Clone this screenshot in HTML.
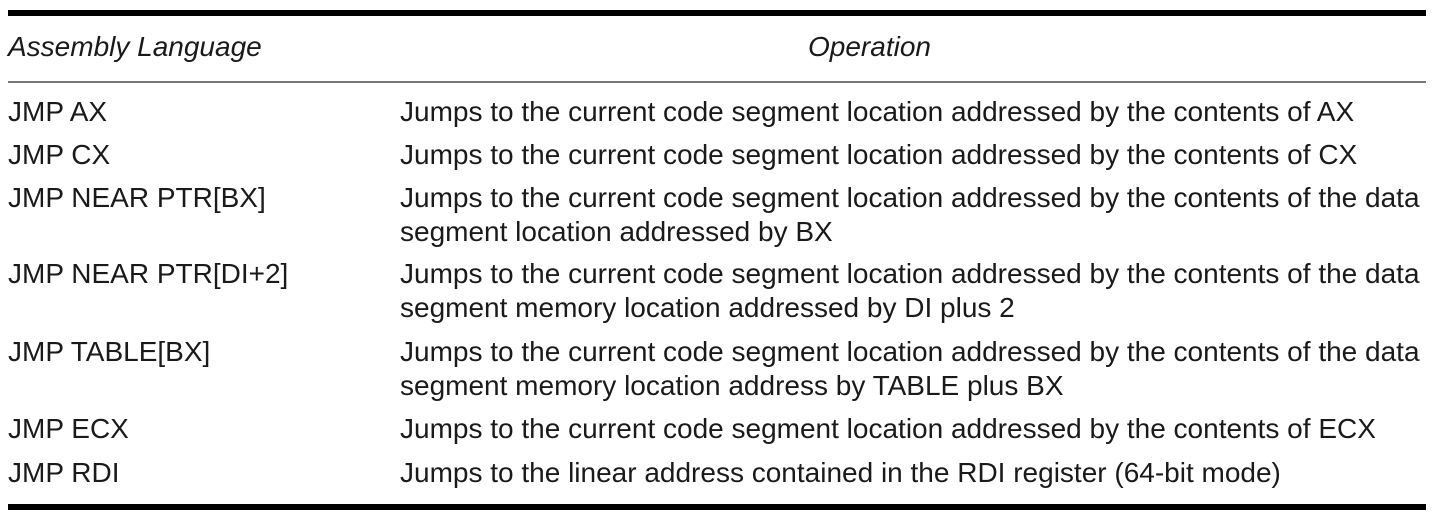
<!DOCTYPE html>
<html><head><meta charset="utf-8"><style>
html,body{margin:0;padding:0;background:#fff;}
body{width:1433px;height:517px;position:relative;overflow:hidden;font-family:"Liberation Sans",Arial,sans-serif;color:#1a1a1a;}
.t{position:absolute;font-size:28px;line-height:28px;white-space:nowrap;}
.i{font-style:italic;}
.r{position:absolute;left:8px;width:1418px;}
</style></head><body>
<div class="r" style="top:10px;height:6px;background:#000;"></div>
<div class="r" style="top:81px;height:2px;background:#777;"></div>
<div class="r" style="top:504px;height:6px;background:#000;"></div>

<div class="t i" style="left:8px;top:33px;">Assembly Language</div>
<div class="t i" style="left:808px;top:33px;">Operation</div>

<div class="t" style="left:8px;top:98px;">JMP AX</div>
<div class="t" style="left:400px;top:98px;">Jumps to the current code segment location addressed by the contents of AX</div>

<div class="t" style="left:8px;top:141px;">JMP CX</div>
<div class="t" style="left:400px;top:141px;">Jumps to the current code segment location addressed by the contents of CX</div>

<div class="t" style="left:8px;top:184px;">JMP NEAR PTR[BX]</div>
<div class="t" style="left:400px;top:184px;">Jumps to the current code segment location addressed by the contents of the data</div>
<div class="t" style="left:400px;top:218px;">segment location addressed by BX</div>

<div class="t" style="left:8px;top:260px;">JMP NEAR PTR[DI+2]</div>
<div class="t" style="left:400px;top:260px;">Jumps to the current code segment location addressed by the contents of the data</div>
<div class="t" style="left:400px;top:294px;">segment memory location addressed by DI plus 2</div>

<div class="t" style="left:8px;top:338px;">JMP TABLE[BX]</div>
<div class="t" style="left:400px;top:338px;">Jumps to the current code segment location addressed by the contents of the data</div>
<div class="t" style="left:400px;top:372px;">segment memory location address by TABLE plus BX</div>

<div class="t" style="left:8px;top:415px;">JMP ECX</div>
<div class="t" style="left:400px;top:415px;">Jumps to the current code segment location addressed by the contents of ECX</div>

<div class="t" style="left:8px;top:459px;">JMP RDI</div>
<div class="t" style="left:400px;top:459px;">Jumps to the linear address contained in the RDI register (64-bit mode)</div>
</body></html>
